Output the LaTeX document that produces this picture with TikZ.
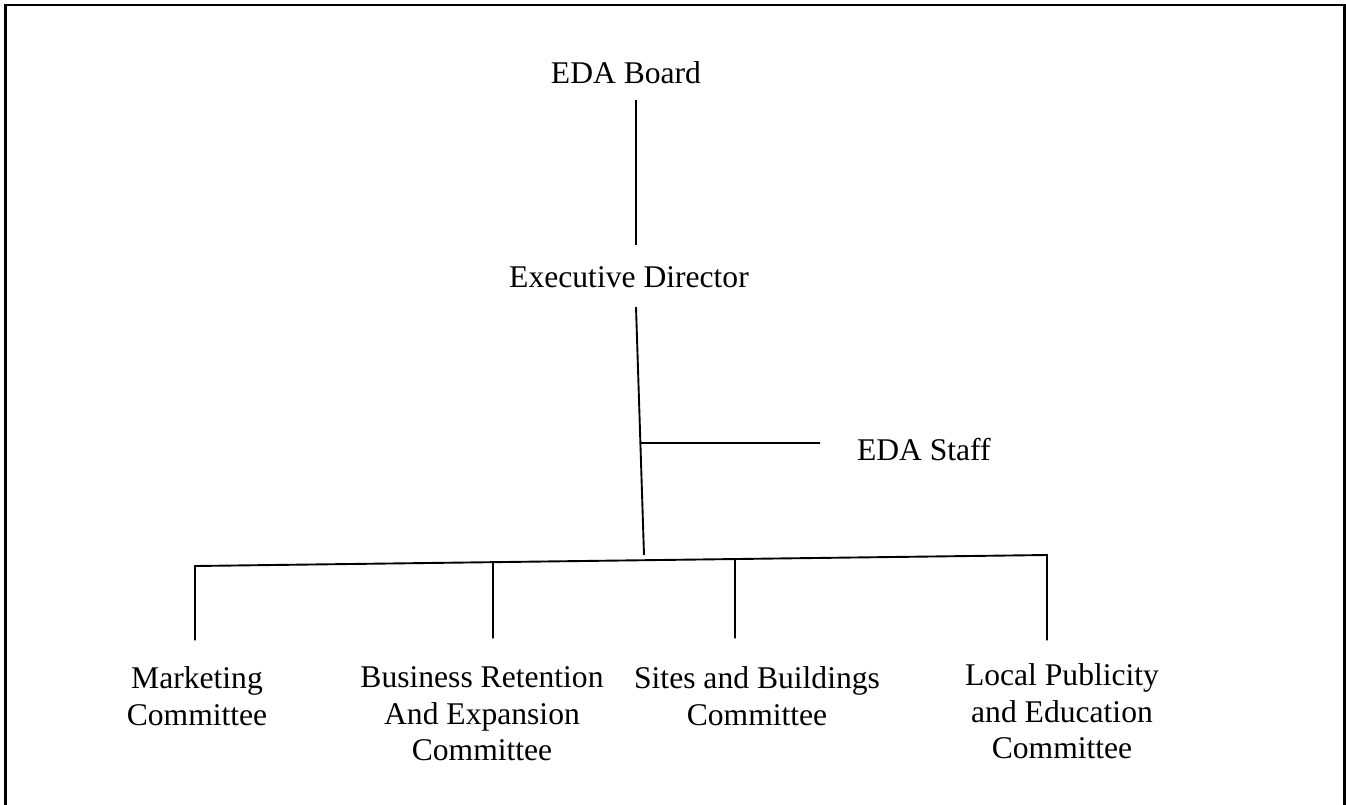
\documentclass[tikz,border=0pt]{standalone}
\usepackage{fontspec}
\setmainfont{Liberation Serif}
\usetikzlibrary{calc}
\begin{document}
\begin{tikzpicture}[x=1pt,y=-1pt,
  lbl/.style={inner sep=0pt,outer sep=0pt,align=center,font=\fontsize{31.6}{36.7}\selectfont},
  conn/.style={line width=1.9pt,line join=miter},
  frame/.style={line width=2.5pt}]
\useasboundingbox (0,0) rectangle (1346,804);
% outer frame (bottom edge falls outside the picture)
\draw[frame] (5.5,810) -- (5.5,5) -- (1344.5,5) -- (1344.5,810);
% nodes
\node[lbl,anchor=base] (board) at (626,83) {EDA Board};
\node[lbl,anchor=base] (exec) at (629,287) {Executive Director};
\node[lbl,anchor=base west] (staff) at (857,460) {EDA Staff};
\node[lbl,anchor=north] (mkt) at (197,666.4) {Marketing\\Committee};
\node[lbl,anchor=north] (bre) at (482,666.4) {Business Retention\\And Expansion\\Committee};
\node[lbl,anchor=north] (sites) at (757,666.4) {Sites and Buildings\\Committee};
\node[lbl,anchor=north] (local) at (1062,663.4) {Local Publicity\\and Education\\Committee};
% junction coordinates
\coordinate (bL) at (195,566);
\coordinate (bR) at (1047,555);
\coordinate (spineTop) at ([shift={(7,20)}]exec.base);
\coordinate (spineBot) at (644,555);
\coordinate (staffJ) at ($(spineTop)!{(443-307)/(555-307)}!(spineBot)$);
% connectors
\draw[conn] ([shift={(10,17)}]board.base) -- ([shift={(7,-42)}]exec.base);
\draw[conn] (spineTop) -- (spineBot);
\draw[conn] (staffJ) -- ([shift={(-37,-17)}]staff.base west);
\draw[conn] ([shift={(-2,-26)}]mkt.north) -- (bL) -- (bR) -- ([shift={(-15,-23)}]local.north);
\draw[conn] ($(bL)!{(493-195)/852}!(bR)$) -- ([shift={(11,-28)}]bre.north);
\draw[conn] ($(bL)!{(735-195)/852}!(bR)$) -- ([shift={(-22,-28)}]sites.north);
\end{tikzpicture}
\end{document}
